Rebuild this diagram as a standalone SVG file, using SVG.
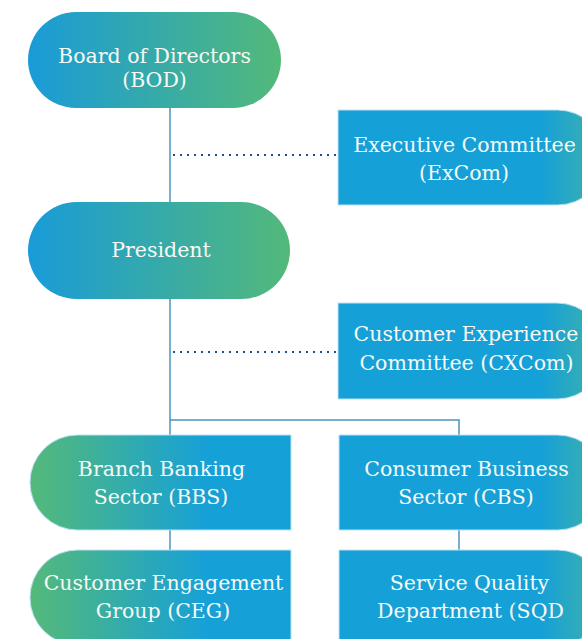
<svg xmlns="http://www.w3.org/2000/svg" width="582" height="639" viewBox="0 0 582 639">
<defs>
<linearGradient id="gPill" x1="0" y1="0" x2="1" y2="0">
<stop offset="0" stop-color="#199bd8"/>
<stop offset="1" stop-color="#53b97a"/>
</linearGradient>
<linearGradient id="gRight" x1="338" y1="0" x2="605" y2="0" gradientUnits="userSpaceOnUse">
<stop offset="0" stop-color="#16a0d8"/>
<stop offset="0.76" stop-color="#16a0d8"/>
<stop offset="1" stop-color="#40b2a6"/>
</linearGradient>
<linearGradient id="gLeft" x1="30" y1="0" x2="291" y2="0" gradientUnits="userSpaceOnUse">
<stop offset="0" stop-color="#54b979"/>
<stop offset="0.68" stop-color="#16a0d8"/>
<stop offset="1" stop-color="#16a0d8"/>
</linearGradient>
</defs>
<style>
.t{font-family:"DejaVu Serif","Liberation Serif",serif;font-size:20.5px;fill:#f7f9f4;text-anchor:middle}
.ln{stroke:#4d93bf;stroke-width:1.5;fill:none}
.dot{stroke:#1f4f8c;stroke-width:2.2;stroke-dasharray:2 5;fill:none}
.box{stroke:#b9e2f3;stroke-width:1}
</style>
<rect width="582" height="639" fill="#ffffff"/>
<g id="connectors">
<line class="ln" x1="170" y1="108" x2="170" y2="202"/>
<line class="ln" x1="170" y1="299" x2="170" y2="435"/>
<polyline class="ln" points="170,420 459,420 459,435"/>
<line class="ln" x1="170" y1="530" x2="170" y2="550"/>
<line class="ln" x1="459" y1="530" x2="459" y2="550"/>
<line class="dot" x1="173" y1="155" x2="338" y2="155"/>
<line class="dot" x1="173" y1="352" x2="338" y2="352"/>
</g>
<g id="bod">
<rect x="28" y="12" width="253" height="96" rx="48" fill="url(#gPill)"/>
<text class="t" x="154.5" y="63">Board of Directors</text>
<text class="t" x="154.5" y="87">(BOD)</text>
</g>
<g id="excom">
<path class="box" d="M338,110 H557.5 A47.5,47.5 0 0 1 557.5,205 H338 Z" fill="url(#gRight)"/>
<text class="t" x="464.5" y="152">Executive Committee</text>
<text class="t" x="464" y="180">(ExCom)</text>
</g>
<g id="president">
<rect x="28" y="202" width="262" height="97" rx="48.5" fill="url(#gPill)"/>
<text class="t" x="161" y="257">President</text>
</g>
<g id="cxcom">
<path class="box" d="M338,303 H557 A48,48 0 0 1 557,399 H338 Z" fill="url(#gRight)"/>
<text class="t" x="466" y="341">Customer Experience</text>
<text class="t" x="466.5" y="370">Committee (CXCom)</text>
</g>
<g id="bbs">
<path class="box" d="M291,435 H77.5 A47.5,47.5 0 0 0 77.5,530 H291 Z" fill="url(#gLeft)"/>
<text class="t" x="161.5" y="476">Branch Banking</text>
<text class="t" x="161" y="504">Sector (BBS)</text>
</g>
<g id="cbs">
<path class="box" d="M339,435 H557.5 A47.5,47.5 0 0 1 557.5,530 H339 Z" fill="url(#gRight)"/>
<text class="t" x="466.5" y="476">Consumer Business</text>
<text class="t" x="466" y="504">Sector (CBS)</text>
</g>
<g id="ceg">
<path class="box" d="M291,550 H77.5 A47.5,47.5 0 0 0 77.5,645 H291 Z" fill="url(#gLeft)"/>
<text class="t" x="163.5" y="590">Customer Engagement</text>
<text class="t" x="163" y="618">Group (CEG)</text>
</g>
<g id="sqd">
<path class="box" d="M339,550 H557.5 A47.5,47.5 0 0 1 557.5,645 H339 Z" fill="url(#gRight)"/>
<text class="t" x="469.5" y="590">Service Quality</text>
<text class="t" x="470.5" y="618">Department (SQD</text>
</g>
</svg>
